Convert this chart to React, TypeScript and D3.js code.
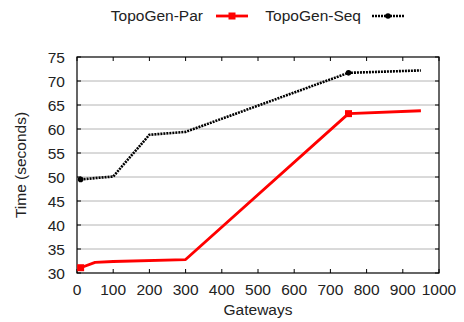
import React from 'react'
import * as d3 from 'd3'

const gateways = [0, 100, 200, 300, 400, 500, 600, 700, 800, 900, 1000]
const timeTicks = [30, 35, 40, 45, 50, 55, 60, 65, 70, 75]

const parX = [10, 50, 100, 300, 750, 950]
const parY = [31.1, 32.2, 32.4, 32.8, 63.2, 63.8]
const seqX = [10, 100, 200, 300, 750, 950]
const seqY = [49.5, 50.1, 58.8, 59.4, 71.7, 72.2]
const markerIdx = [0, 4]

const W = 464
const H = 322
const margin = { top: 57, right: 25, bottom: 49, left: 77 }
const font = '"Liberation Sans", Arial, Helvetica, sans-serif'

export default function App() {
  const x = d3.scaleLinear().domain([0, 1000]).range([margin.left, W - margin.right])
  const y = d3.scaleLinear().domain([30, 75]).range([H - margin.bottom, margin.top])
  const line = d3.line<number>()

  const par = parX.map((v, i) => [x(v), y(parY[i])] as [number, number])
  const seq = seqX.map((v, i) => [x(v), y(seqY[i])] as [number, number])

  const x0 = x(0), x1 = x(1000), y0 = y(30), y1 = y(75)
  const tk = 4

  return (
    <svg width={W} height={H} style={{ position: 'absolute', left: 0, top: 0, fontFamily: font }}>
      <rect width={W} height={H} fill="#fff" />
      {timeTicks.map(t => (
        <g key={'y' + t}>
          {t > 30 && t < 75 && (
            <line x1={x0} x2={x1} y1={y(t)} y2={y(t)} stroke="#b4b4b4" strokeWidth={1} />
          )}
          <line x1={x0} x2={x0 + tk} y1={y(t)} y2={y(t)} stroke="#000" />
          <line x1={x1 - tk} x2={x1} y1={y(t)} y2={y(t)} stroke="#000" />
          <text x={65} y={y(t)} dy="0.36em" textAnchor="end" fontSize={15.5} fill="#222">{t}</text>
        </g>
      ))}
      {gateways.map(g => (
        <g key={'x' + g}>
          <line x1={x(g)} x2={x(g)} y1={y0} y2={y0 - tk} stroke="#000" />
          <line x1={x(g)} x2={x(g)} y1={y1} y2={y1 + tk} stroke="#000" />
          <text x={x(g)} y={295} textAnchor="middle" fontSize={15.5} fill="#222">{g}</text>
        </g>
      ))}
      <rect x={x0} y={y1} width={x1 - x0} height={y0 - y1} fill="none" stroke="#000" strokeWidth={1.2} />

      <path d={line(par) || ''} fill="none" stroke="#ff0000" strokeWidth={2.8} strokeLinejoin="round" />
      {markerIdx.map(i => (
        <rect key={'pm' + i} x={par[i][0] - 3.5} y={par[i][1] - 3.5} width={7} height={7} fill="#ff0000" />
      ))}
      <path d={line(seq) || ''} fill="none" stroke="#000" strokeWidth={2.6} strokeDasharray="2,1" />
      {markerIdx.map(i => (
        <circle key={'sm' + i} cx={seq[i][0]} cy={seq[i][1]} r={2.8} fill="#000" />
      ))}

      <text x={20} y={(y0 + y1) / 2} transform={`rotate(-90 20 ${(y0 + y1) / 2})`} dy="0.36em"
        textAnchor="middle" fontSize={15.5} fill="#222">Time (seconds)</text>
      <text x={(x0 + x1) / 2} y={315} textAnchor="middle" fontSize={15.5} fill="#222">Gateways</text>

      <text x={203} y={21} textAnchor="end" fontSize={15.5} fill="#222">TopoGen-Par</text>
      <line x1={216} x2={248} y1={16} y2={16} stroke="#ff0000" strokeWidth={2.8} />
      <rect x={228.5} y={12.5} width={7} height={7} fill="#ff0000" />
      <text x={361} y={21} textAnchor="end" fontSize={15.5} fill="#222">TopoGen-Seq</text>
      <line x1={372} x2={404} y1={16} y2={16} stroke="#000" strokeWidth={2.6} strokeDasharray="2,1" />
      <circle cx={388} cy={16} r={2.8} fill="#000" />
    </svg>
  )
}
